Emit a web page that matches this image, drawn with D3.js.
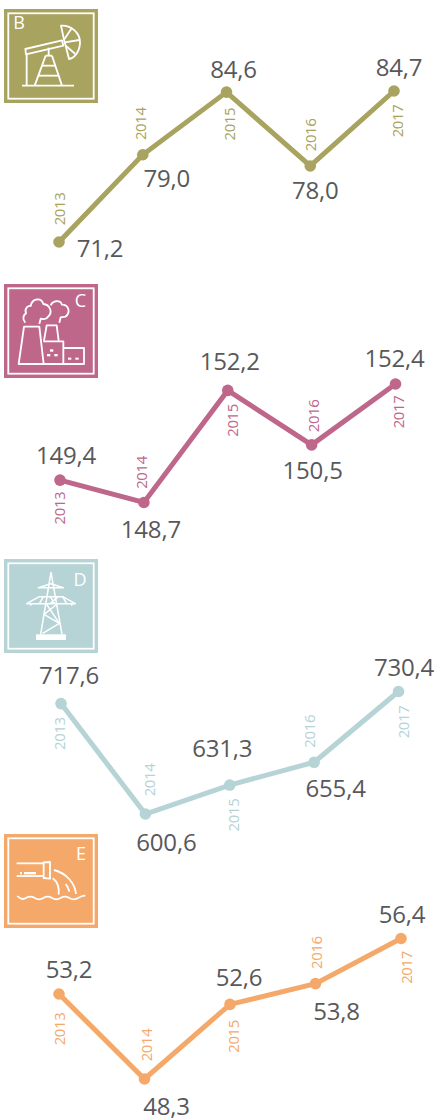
<!DOCTYPE html>
<html>
<head>
<meta charset="utf-8">
<script src="https://cdn.jsdelivr.net/npm/d3@7/dist/d3.min.js"></script>
<style>
html,body{margin:0;padding:0;background:#fff}
svg{display:block}
text{font-family:"Open Sans",sans-serif}
</style>
</head>
<body>
<div id="chart"></div>
<script>
const years = [2013, 2014, 2015, 2016, 2017];
const panelLetters = ["B", "C", "D", "E"];
const valuesB = [71.2, 79.0, 84.6, 78.0, 84.7];
const valuesC = [149.4, 148.7, 152.2, 150.5, 152.4];
const valuesD = [717.6, 600.6, 631.3, 655.4, 730.4];
const valuesE = [53.2, 48.3, 52.6, 53.8, 56.4];

// layout, separate from the data
const panels = [
  {letter:"B", values:valuesB, color:"#a9a360", frameY:9,
   x:[59,394], y:[242,91],
   valOff:[[41,15],[24,32],[7,-14],[5,33.5],[5,-15]],
   yearOff:[[6,-33],[3.7,-31],[8,32],[5.7,-31],[9,30]],
   letterPos:[19,29]},
  {letter:"C", values:valuesC, color:"#be678b", frameY:284,
   x:[60,395.5], y:[502.5,384],
   valOff:[[6,-16],[7,35],[2,-20],[1,34],[-1,-17]],
   yearOff:[[5,28],[3,-30],[10,30],[7,-29],[8,28]],
   letterPos:[80.5,307]},
  {letter:"D", values:valuesD, color:"#b6d3d5", frameY:559,
   x:[61,398.5], y:[814,691.5],
   valOff:[[8,-20],[21,37],[-7.5,-28],[21.5,35],[5.5,-15.5]],
   yearOff:[[4,30],[10,-34],[9.3,30],[1,-31],[10.5,30.5]],
   letterPos:[80,586]},
  {letter:"E", values:valuesE, color:"#f4a96b", frameY:834,
   x:[59,401], y:[1079,938.5],
   valOff:[[10,-16],[22,36],[9,-18],[21,36],[1,-16]],
   yearOff:[[6,35],[7.8,-34],[8.7,32],[6.8,-31],[11,29]],
   letterPos:[81,860]}
];

// icons, in a 306-unit box whose frame spans 12..294
const iconPaths = {
  B: ["M66 242H222","M76 132L186 106L190 122L78 148Z","M80 148V242","M146 128V152","M137 152H156","M137 152L104 242","M156 152L186 242",
      "M126 182H168","M115 212H178",
      "M183 62C215 60 240 85 240 112C240 138 225 158 207 162L197 122L192 104Z","M192 104L215 70","M194 112L238 105","M197 122L226 147"],
  C: ["M56 252L72 140H118L131 252Z","M132 182L140 136H170L176 182","M130 184H190V252H130","M190 204H252V252H190",
      "M76 128C66 118 70 104 78 100C72 84 86 76 92 78C96 54 124 52 130 72C150 74 158 96 146 108C140 118 128 118 122 116L118 132",
      "M152 76C158 62 180 58 186 74C205 74 214 96 196 110L182 112L178 128"],
  D: ["M153 52L122 238","M153 52L186 238","M115 98L153 86L190 98H115Z","M80 146L118 125H188L226 146Z","M130 125L118 146M150 125L165 146M175 125L150 146M188 125L200 146",
      "M92 146V152M215 146V152","M168 150L132 178L178 205L128 235","M140 148L178 205"],
  E: ["M50 100H130","M50 138H130","M131 97L150 96V146L131 144Z","M162 120C200 130 225 160 228 192","M158 145C172 155 178 175 176 194","M197 162Q205 172 208 185",
      "M52 198Q65 212 78 204T104 204T130 204T156 204T182 204T208 204T234 204T256 197"]
};
const iconBlocks = {
  B: [], D: [[108,238,90,17]],
  C: [[150,208,10,7],[141,222,10,7],[163,222,10,7],[204,233,10,6],[226,233,10,6]],
  E: [[60,126,6,7],[72,126,36,7]]
};

const width = 438, height = 1118;
const fmt = d3.formatLocale({decimal:",",thousands:".",grouping:[3],currency:["",""]}).format(".1f");

const svg = d3.select("#chart").append("svg").attr("width",width).attr("height",height);

panels.forEach(p => {
  const g = svg.append("g");

  // icon frame
  const frameSize = 94, frameX = 4;
  g.append("rect").attr("x",frameX).attr("y",p.frameY).attr("width",frameSize).attr("height",frameSize).attr("fill",p.color);
  g.append("rect").attr("x",frameX+4.3).attr("y",p.frameY+4.3).attr("width",frameSize-8.6).attr("height",frameSize-8.6)
    .attr("fill","none").attr("stroke","#fff").attr("stroke-width",1.8);
  const ig = g.append("g").attr("transform",`translate(0,${p.frameY-4}) scale(${1/3})`);
  ig.selectAll("path").data(iconPaths[p.letter]).join("path").attr("d",d=>d)
    .attr("fill","none").attr("stroke","#fff").attr("stroke-width",p.letter==="D"?4.5:5.5).attr("stroke-linejoin","round");
  ig.selectAll("rect").data(iconBlocks[p.letter]).join("rect")
    .attr("x",d=>d[0]).attr("y",d=>d[1]).attr("width",d=>d[2]).attr("height",d=>d[3]).attr("fill","#fff");
  g.append("text").attr("x",p.letterPos[0]).attr("y",p.letterPos[1]).attr("text-anchor","middle")
    .attr("font-size",18).attr("font-weight",400).attr("fill","#fff").text(p.letter);

  // scales
  const x = d3.scalePoint().domain(years).range(p.x);
  const y = d3.scaleLinear().domain(d3.extent(p.values)).range(p.y);
  const rows = years.map((yr,i)=>({yr,v:p.values[i],i}));

  g.append("path").datum(rows)
    .attr("d",d3.line().x(d=>x(d.yr)).y(d=>y(d.v)))
    .attr("fill","none").attr("stroke",p.color).attr("stroke-width",5).attr("stroke-linejoin","miter");

  g.selectAll("circle").data(rows).join("circle")
    .attr("cx",d=>x(d.yr)).attr("cy",d=>y(d.v)).attr("r",5.8).attr("fill",p.color);

  g.selectAll("text.val").data(rows).join("text").attr("class","val")
    .attr("x",d=>x(d.yr)+p.valOff[d.i][0]).attr("y",d=>y(d.v)+p.valOff[d.i][1])
    .attr("text-anchor","middle").attr("font-size",24).attr("letter-spacing",-0.2).attr("fill","#58585a")
    .text(d=>fmt(d.v));

  g.selectAll("text.yr").data(rows).join("text").attr("class","yr")
    .attr("transform",d=>`translate(${x(d.yr)+p.yearOff[d.i][0]},${y(d.v)+p.yearOff[d.i][1]}) rotate(-90)`)
    .attr("text-anchor","middle").attr("font-size",15).attr("letter-spacing",-0.4).attr("fill",p.color)
    .text(d=>d.yr);
});
</script>
</body>
</html>
